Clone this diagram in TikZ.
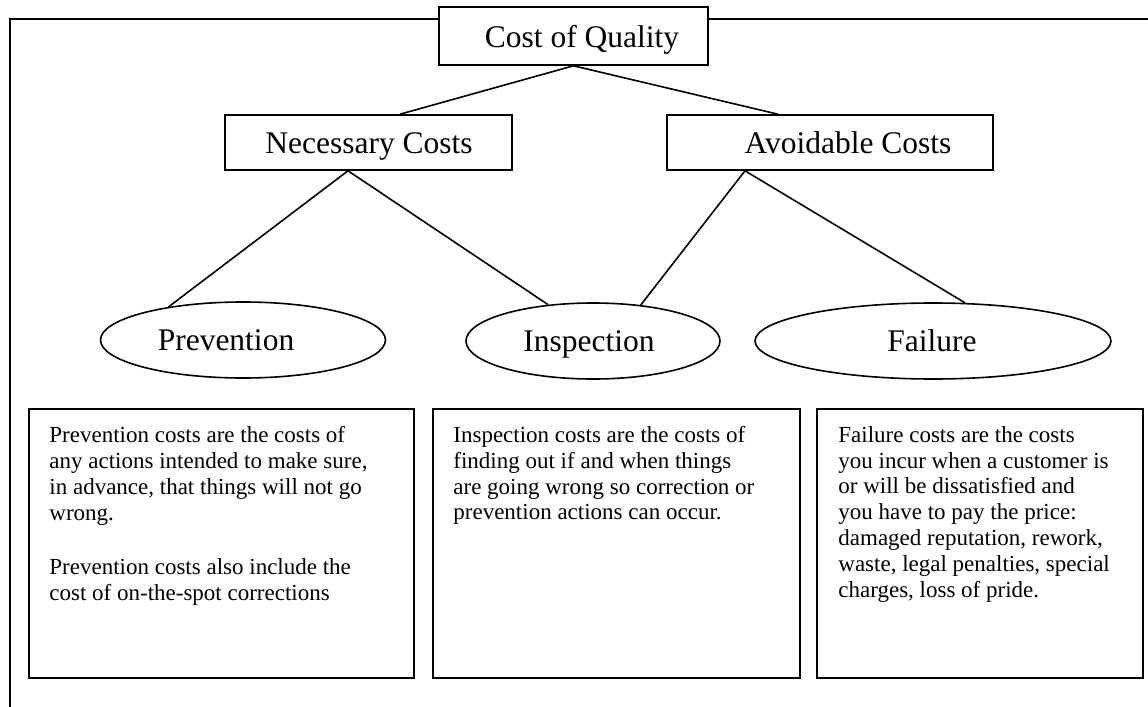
\documentclass[tikz,border=0pt]{standalone}
\usepackage{fontspec}
\setmainfont{Liberation Serif}
\usetikzlibrary{shapes.geometric}
\begin{document}
\begin{tikzpicture}[x=0.5pt,y=-0.5pt,
  edge/.style={line width=0.8pt},
  rectbox/.style={draw, line width=0.8pt, inner sep=0pt},
  oval/.style={ellipse, draw, line width=0.8pt, inner sep=0pt, minimum height=38pt},
  big/.style={font=\fontsize{15.75}{18}\selectfont, inner sep=0pt, anchor=base},
  note/.style={font=\fontsize{11.5}{12.9}\selectfont, inner sep=0pt, anchor=north west, align=left},
]
\useasboundingbox (0,0) rectangle (1148,707);

% frame corners
\coordinate (tl) at (10,19);
\coordinate (tr) at (1148,19);
\coordinate (bl) at (10,707);

% top level
\node[rectbox, minimum width=134.5pt, minimum height=29pt] (coq) at (573.5,36) {};
\node[big] (coqt) at (582,47) {Cost of Quality};

% second level
\node[rectbox, minimum width=143.5pt, minimum height=27.5pt] (nec) at (368.5,142.5) {};
\node[big] (nect) at (369,153) {Necessary Costs};
\node[rectbox, minimum width=163pt, minimum height=27.5pt] (av) at (830,142.5) {};
\node[big] (avt) at (848,153) {Avoidable Costs};

% cost categories
\node[oval, minimum width=142.5pt] (prev) at (243,340) {};
\node[big] (prevt) at (226,350) {Prevention};
\node[oval, minimum width=127pt] (insp) at (593,341) {};
\node[big] (inspt) at (589,351) {Inspection};
\node[oval, minimum width=178pt] (fail) at (933,341) {};
\node[big] (failt) at (932,351) {Failure};

% description boxes
\node[rectbox, minimum width=192.5pt, minimum height=134.5pt] (pbox) at (221.5,543.5) {};
\node[rectbox, minimum width=183.5pt, minimum height=134.5pt] (ibox) at (616.5,543.5) {};
\node[rectbox, minimum width=163pt, minimum height=134.5pt] (fbox) at (980,543.5) {};

\node[note] (ptext) at (49,426) {Prevention costs are the costs of\\
any actions intended to make sure,\\
in advance, that things will not go\\
wrong.\\[14.5pt]
Prevention costs also include the\\
cost of on-the-spot corrections};
\node[note] (itext) at (453,426) {Inspection costs are the costs of\\
finding out if and when things\\
are going wrong so correction or\\
prevention actions can occur.};
\node[note] (ftext) at (838,426) {Failure costs are the costs\\
you incur when a customer is\\
or will be dissatisfied and\\
you have to pay the price:\\
damaged reputation, rework,\\
waste, legal penalties, special\\
charges, loss of pride.};

% outer frame
\draw[edge] (bl) -- (tl) -- (coq.west |- tl);
\draw[edge] (coq.east |- tl) -- (tr);

% connectors
\draw[edge] (coq.south) -- ([xshift=15.75pt]nec.north);
\draw[edge] (coq.south) -- ([xshift=-26pt]av.north);
\draw[edge] ([xshift=-10.25pt]nec.south) -- (prev.156);
\draw[edge] ([xshift=-10.25pt]nec.south) -- (insp.141);
\draw[edge] ([xshift=-42.5pt]av.south) -- (insp.37);
\draw[edge] ([xshift=-42.5pt]av.south) -- (fail.50);
\end{tikzpicture}
\end{document}
